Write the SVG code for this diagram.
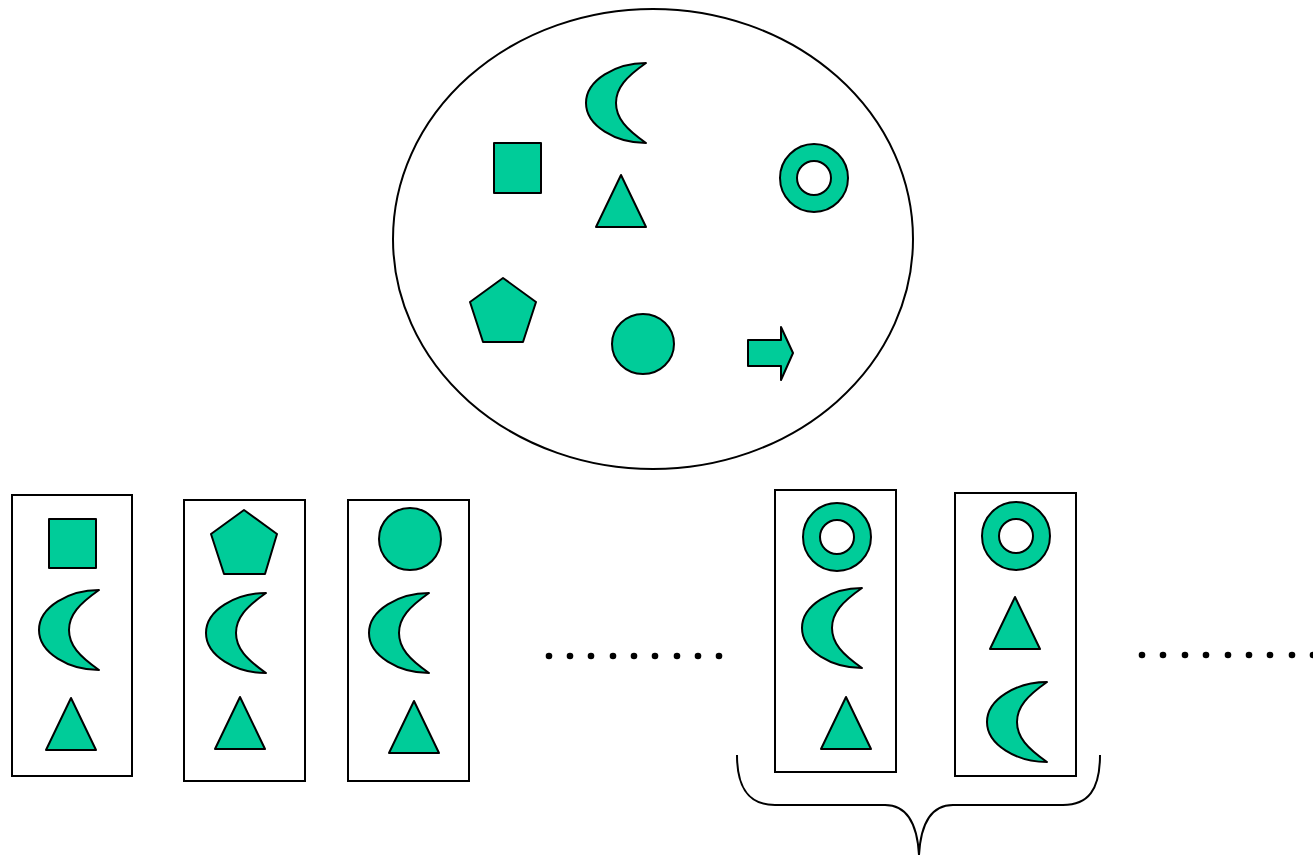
<svg xmlns="http://www.w3.org/2000/svg" width="1313" height="857" viewBox="0 0 1313 857">
<style>
.s{fill:#00CC99;stroke:#000;stroke-width:2;stroke-linejoin:round}
.b{fill:#fff;stroke:#000;stroke-width:2}
.d{fill:#000}
</style>
<defs>
<path id="moon" class="s" d="M0,0 C-30,0 -60,17 -60,40 C-60,63 -30,80 0,80 C-20,66 -30,55 -30,40 C-30,25 -20,14 0,0 Z"/>
<path id="tri" class="s" d="M0,0 L25,52 L-25,52 Z"/>
</defs>
<rect width="1313" height="857" fill="#fff"/>
<g id="set">
<ellipse cx="653" cy="239" rx="260" ry="230" class="b"/>
<use href="#moon" x="646" y="63"/>
<rect x="494" y="143" width="47" height="50" class="s"/>
<use href="#tri" x="621" y="175"/>
<circle cx="814" cy="178" r="34" class="s"/>
<circle cx="814" cy="178" r="17" class="b"/>
<path class="s" d="M503,278 L536,302 L523,342 L483,342 L470,302 Z"/>
<ellipse cx="643" cy="344" rx="31" ry="30" class="s"/>
<path class="s" d="M748,340 L781,340 L781,327 L793,353 L781,380 L781,366 L748,366 Z"/>
</g>
<g id="box1">
<rect x="12" y="495" width="120" height="281" class="b"/>
<rect x="49" y="519" width="47" height="49" class="s"/>
<use href="#moon" x="99" y="590"/>
<use href="#tri" x="71" y="698"/>
</g>
<g id="box2">
<rect x="184" y="500" width="121" height="281" class="b"/>
<path class="s" d="M244,510 L277,534 L265,574 L224,574 L211,534 Z"/>
<use href="#moon" x="266" y="593"/>
<use href="#tri" x="240" y="697"/>
</g>
<g id="box3">
<rect x="348" y="500" width="121" height="281" class="b"/>
<circle cx="410" cy="539" r="31" class="s"/>
<use href="#moon" x="429" y="593"/>
<use href="#tri" x="414" y="701"/>
</g>
<g id="box4">
<rect x="775" y="490" width="121" height="282" class="b"/>
<circle cx="837" cy="537" r="34" class="s"/>
<circle cx="837" cy="537" r="17" class="b"/>
<use href="#moon" x="862" y="588"/>
<use href="#tri" x="846" y="697"/>
</g>
<g id="box5">
<rect x="955" y="493" width="121" height="283" class="b"/>
<circle cx="1016" cy="536" r="34" class="s"/>
<circle cx="1016" cy="536" r="17" class="b"/>
<use href="#tri" x="1015" y="597"/>
<use href="#moon" x="1047" y="682"/>
</g>
<g id="dots1" class="d">
<circle cx="549" cy="656" r="3.3"/><circle cx="570" cy="656" r="3.3"/><circle cx="591" cy="656" r="3.3"/><circle cx="613" cy="656" r="3.3"/><circle cx="634" cy="656" r="3.3"/><circle cx="655" cy="656" r="3.3"/><circle cx="677" cy="656" r="3.3"/><circle cx="698" cy="656" r="3.3"/><circle cx="719" cy="656" r="3.3"/>
</g>
<g id="dots2" class="d">
<circle cx="1142" cy="655" r="3.3"/><circle cx="1163" cy="655" r="3.3"/><circle cx="1185" cy="655" r="3.3"/><circle cx="1206" cy="655" r="3.3"/><circle cx="1228" cy="655" r="3.3"/><circle cx="1249" cy="655" r="3.3"/><circle cx="1270" cy="655" r="3.3"/><circle cx="1292" cy="655" r="3.3"/><circle cx="1313" cy="655" r="3.3"/>
</g>
<g id="brace">
<path d="M737,755 C737,790 750,805 775,805 L885,805 C905,805 917,820 919,855 C921,820 933,805 953,805 L1063,805 C1088,805 1100,790 1100,755" fill="none" stroke="#000" stroke-width="2"/>
</g>
</svg>
